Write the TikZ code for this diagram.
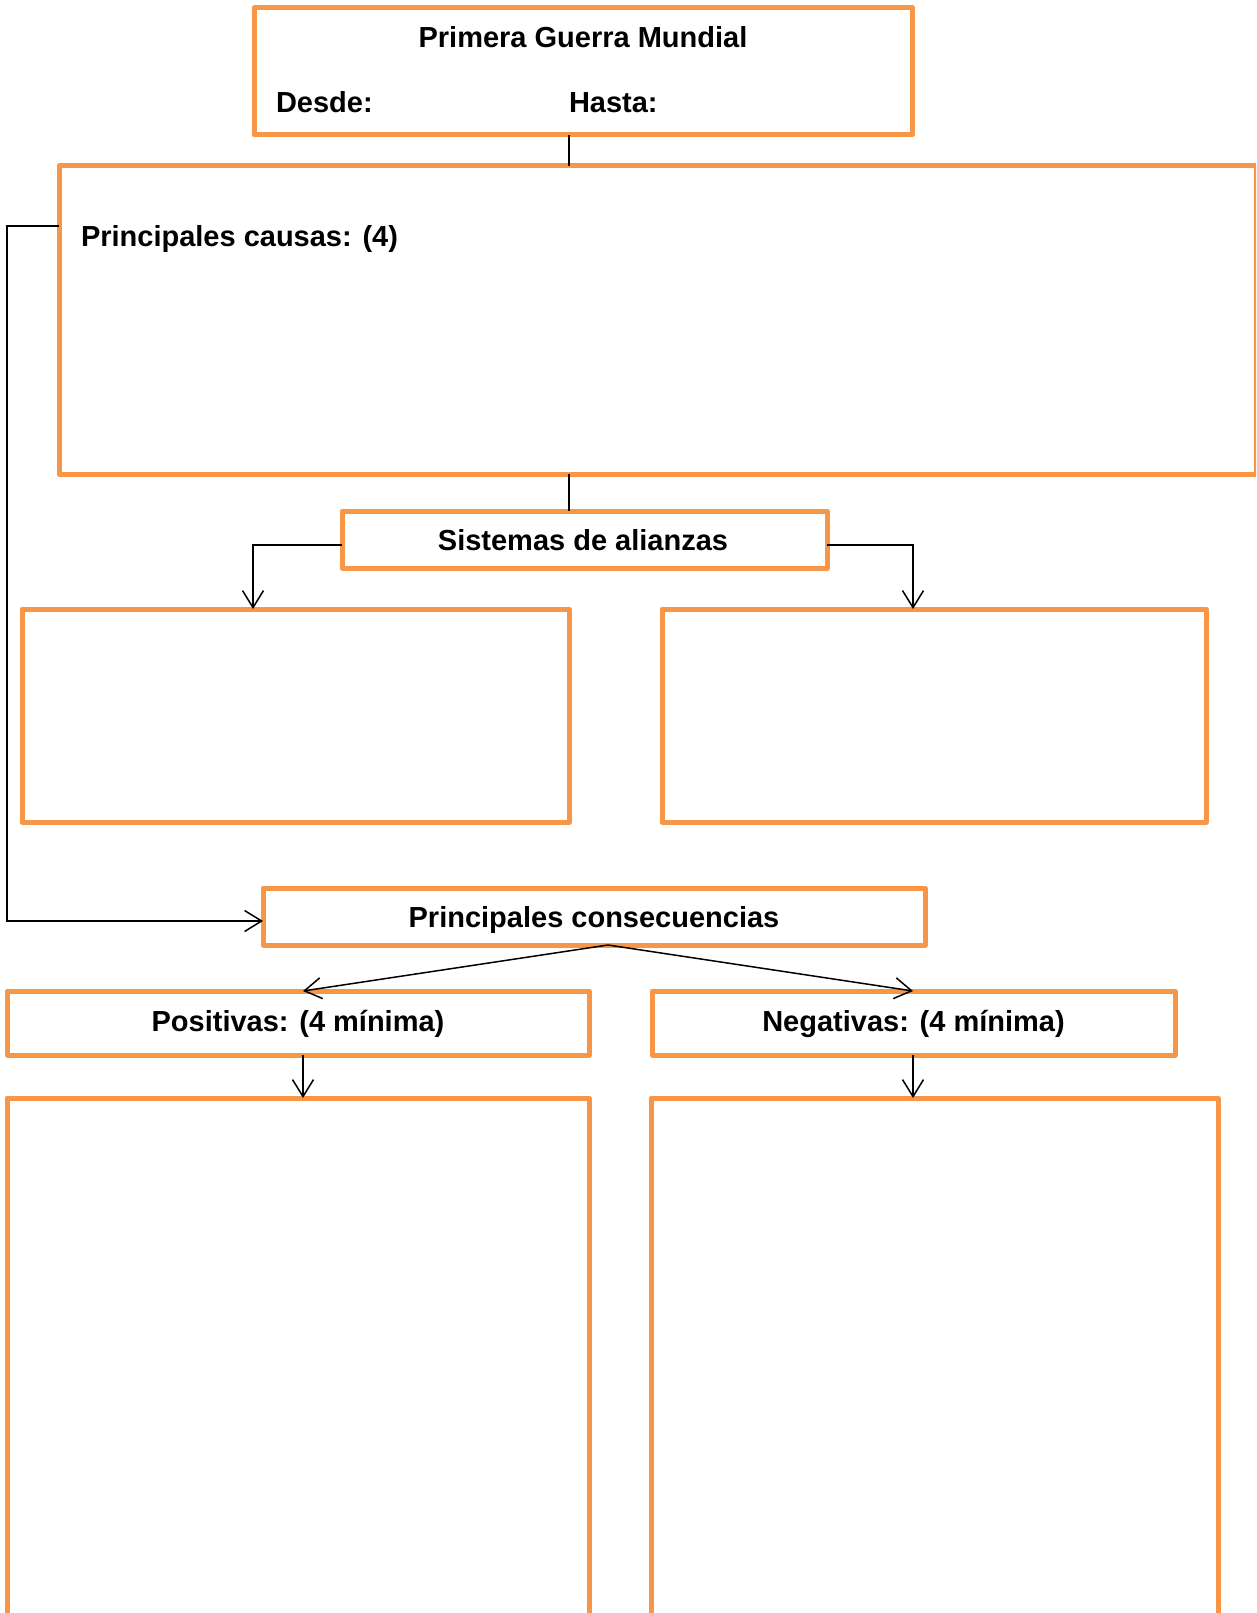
\documentclass[tikz,border=0pt]{standalone}
\usepackage{fontspec}
\setmainfont{Liberation Sans}
\usetikzlibrary{arrows.meta}
\definecolor{orangeC}{HTML}{F79646}
\tikzset{
  obox/.style={draw=orangeC, line width=5pt, line join=round, rectangle, inner sep=0pt, outer sep=0pt},
  lbl/.style={font=\bfseries\fontsize{29}{34}\selectfont, inner sep=0pt, outer sep=0pt},
  conn/.style={draw=black, line width=1.5pt},
  arr/.style={conn, -{Straight Barb[length=17pt,width=21pt,line width=1.5pt]}}
}
\begin{document}
\begin{tikzpicture}[x=1pt,y=-1pt]
\useasboundingbox (0,0) rectangle (1256,1613);
\clip (0,0) rectangle (1256,1613);
% boxes
\node[obox, minimum width=658pt, minimum height=127pt] (top) at (583,71.5) {};
\node[obox, minimum width=1197pt, minimum height=308pt] (causes) at (657.5,320) {};
\node[obox, minimum width=485pt, minimum height=57pt] (sist) at (584.5,539.5) {};
\node[obox, minimum width=547pt, minimum height=213pt] (lbox) at (295.5,715.5) {};
\node[obox, minimum width=544pt, minimum height=213pt] (rbox) at (934,715.5) {};
\node[obox, minimum width=662pt, minimum height=57pt] (conseq) at (594,916.5) {};
\node[obox, minimum width=582pt, minimum height=64pt] (pos) at (298,1023) {};
\node[obox, minimum width=523pt, minimum height=64pt] (neg) at (913.5,1023) {};
\node[obox, minimum width=582pt, minimum height=542pt] (posbox) at (298,1369) {};
\node[obox, minimum width=567pt, minimum height=542pt] (negbox) at (934.5,1369) {};
% texts
\node[lbl, anchor=base] (ttitle) at (583,47.5) {Primera Guerra Mundial};
\node[lbl, anchor=base west] (tdesde) at (276,113) {Desde:};
\node[lbl, anchor=base west] (thasta) at (569,113) {Hasta:};
\node[lbl, anchor=base west] (tcausas) at (81,247) {Principales causas: (4)};
\node[lbl, anchor=base] (tsist) at (583,550) {Sistemas de alianzas};
\node[lbl, anchor=base] (tconseq) at (594,927) {Principales consecuencias};
\node[lbl, anchor=base] (tpos) at (298,1031) {Positivas: (4 mínima)};
\node[lbl, anchor=base] (tneg) at (913.5,1031) {Negativas: (4 mínima)};
% helper coordinates
\coordinate (xa) at (569,0);
\coordinate (lpA) at (7,226);
\coordinate (lpB) at (7,921);
\coordinate (sy) at (0,545);
\coordinate (lx) at (253,545);
\coordinate (rx) at (913,545);
\coordinate (cx) at (608,0);
\coordinate (px) at (303,0);
\coordinate (nx) at (913,0);
% connectors
\draw[conn] (top.south -| xa) -- (causes.north -| xa);
\draw[conn] (causes.south -| xa) -- (sist.north -| xa);
\draw[arr] (causes.west |- lpA) -- (lpA) -- (lpB) -- (conseq.west |- lpB);
\draw[arr] (sist.west |- sy) -- (lx) -- (lbox.north -| lx);
\draw[arr] (sist.east |- sy) -- (rx) -- (rbox.north -| rx);
\draw[arr] (conseq.south -| cx) -- (pos.north -| px);
\draw[arr] (conseq.south -| cx) -- (neg.north -| nx);
\draw[arr] (pos.south -| px) -- (posbox.north -| px);
\draw[arr] (neg.south -| nx) -- (negbox.north -| nx);
\end{tikzpicture}
\end{document}
